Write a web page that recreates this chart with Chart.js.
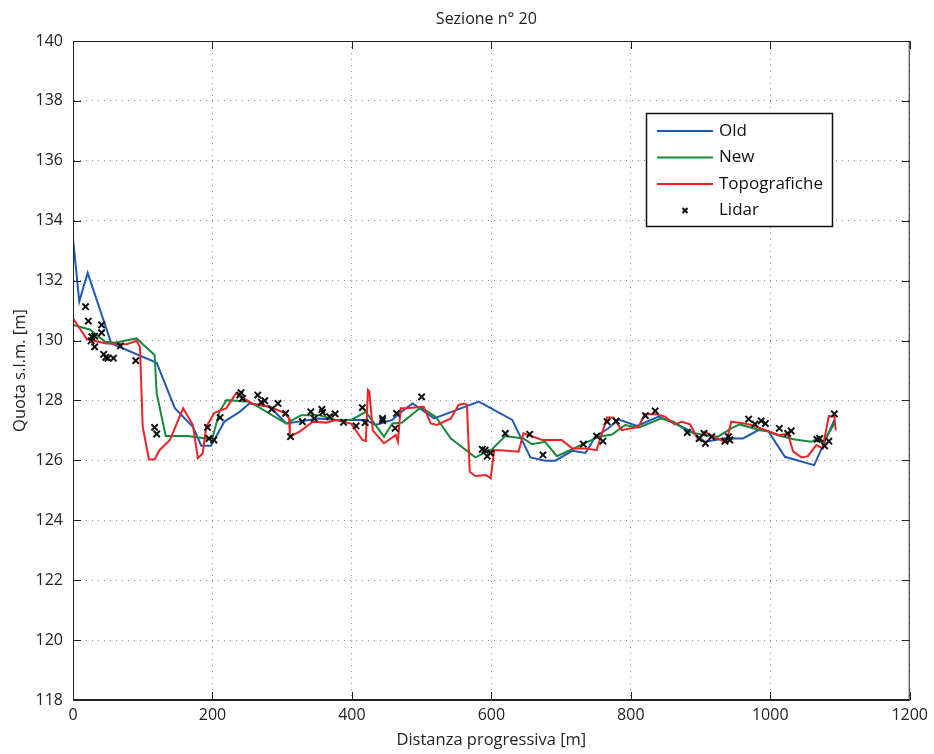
<!DOCTYPE html>
<html>
<head>
<meta charset="utf-8">
<script src="https://cdn.jsdelivr.net/npm/chart.js@4.4.1/dist/chart.umd.min.js"></script>
<style>
  html, body { margin: 0; padding: 0; background: #fff; }
  #wrap { width: 934px; height: 754px; }
</style>
</head>
<body>
<div id="wrap"><canvas id="graficoSezione" width="934" height="754"></canvas></div>
<script>
// Sezione n° 20 - profili quota vs distanza
const titolo = 'Sezione n° 20';
const etichette = ['Old', 'New', 'Topografiche', 'Lidar'];

// [distanza, quota]
const oldLine = [[0,133.4],[9,131.3],[21,132.26],[55,129.9],[120,129.26],[146,127.74],[172,127.12],[184,126.49],[198,126.49],
  [217,127.29],[239,127.62],[253,127.9],[282,127.79],[306,127.23],[353,127.4],[377,127.35],[401,127.35],[420,127.35],
  [434,127.18],[458,127.35],[468,127.57],[487,127.9],[518,127.4],[582,127.96],[630,127.35],[656,126.1],[677,125.99],
  [692,125.99],[716,126.32],[735,126.25],[749,126.79],[768,127.07],[782,127.37],[809,127.15],[840,127.46],[868,127.18],
  [887,126.96],[906,126.62],[921,126.68],[935,126.74],[961,126.73],[983,127.01],[997,126.98],[1021,126.12],[1063,125.84],
  [1078,126.62],[1092,127.35]];

const newLine = [[0,130.52],[24,130.37],[46,129.96],[60,129.93],[91,130.07],[117,129.52],[120,128.24],[133,126.81],[165,126.81],
  [191,126.73],[200,126.75],[210,127.62],[220,128.01],[253,127.96],[306,127.23],[327,127.51],[353,127.51],[377,127.35],
  [399,127.35],[420,127.62],[446,126.79],[458,127.23],[472,127.26],[499,127.77],[520,127.46],[542,126.73],[577,126.1],
  [601,126.37],[620,126.81],[646,126.73],[658,126.54],[677,126.62],[694,126.14],[716,126.37],[754,126.79],[773,126.86],
  [792,127.18],[811,127.09],[844,127.4],[861,127.29],[882,126.96],[906,126.84],[925,126.79],[944,127.07],[956,127.2],
  [975,127.07],[997,126.96],[1011,126.84],[1035,126.7],[1059,126.62],[1068,126.73],[1075,126.57],[1092,127.23]];

const topoLine = [[0,130.74],[8,130.46],[20,130.04],[48,129.9],[77,129.88],[91,129.99],[96,129.79],[100,127.12],[109,126.03],
  [117,126.03],[124,126.34],[139,126.68],[158,127.74],[172,127.18],[179,126.07],[186,126.23],[191,127.12],[203,127.59],
  [220,127.74],[229,128.07],[234,128.24],[256,127.9],[282,127.79],[303,127.59],[310,127.4],[311,126.79],[325,126.96],
  [344,127.29],[363,127.26],[377,127.35],[399,127.23],[415,126.68],[420,126.65],[423,128.35],[425,128.3],[430,127.0],
  [446,126.57],[463,126.84],[466,126.62],[470,127.74],[477,127.74],[503,127.79],[513,127.23],[522,127.18],[542,127.4],
  [553,127.85],[561,127.9],[565,127.85],[569,125.62],[577,125.48],[592,125.51],[599,125.4],[604,126.34],[613,126.34],
  [639,126.29],[646,126.9],[673,126.68],[701,126.68],[716,126.4],[735,126.4],[751,126.34],[766,127.43],[775,127.43],
  [787,127.01],[811,127.12],[820,127.54],[837,127.54],[849,127.46],[863,127.2],[873,127.29],[885,127.2],[897,126.68],
  [906,126.96],[918,126.79],[937,126.59],[944,127.29],[963,127.23],[973,127.18],[999,126.96],[1013,126.84],[1025,126.9],
  [1033,126.29],[1045,126.1],[1054,126.14],[1066,126.51],[1075,126.4],[1084,127.48],[1092,127.46],[1094,127.0]];

const lidarPts = [[18,131.13],[22,130.65],[41,130.52],[27,130.13],[31,130.15],[41,130.26],[26,129.99],[31,129.79],[44,129.54],
  [47,129.44],[50,129.41],[58,129.41],[68,129.82],[90,129.33],[117,127.1],[120,126.88],[193,127.1],[195,126.73],[202,126.68],
  [211,127.43],[239,128.18],[241,128.26],[243,128.07],[265,128.18],[270,127.94],[275,127.99],[285,127.71],[294,127.9],
  [305,127.57],[312,126.79],[329,127.29],[341,127.62],[346,127.4],[357,127.7],[358,127.6],[368,127.46],[376,127.55],
  [388,127.27],[406,127.15],[415,127.76],[419,127.26],[444,127.4],[444,127.33],[462,127.07],[464,127.57],[500,128.12],
  [587,126.37],[591,126.34],[594,126.14],[599,126.25],[620,126.9],[655,126.87],[674,126.18],[732,126.54],[751,126.81],
  [760,126.64],[766,127.29],[779,127.31],[821,127.49],[835,127.65],[881,126.93],[898,126.73],[905,126.9],[907,126.57],
  [916,126.79],[935,126.64],[940,126.79],[942,126.68],[969,127.38],[978,127.21],[987,127.32],[993,127.23],[1013,127.07],
  [1025,126.9],[1030,126.98],[1067,126.7],[1071,126.73],[1078,126.48],[1084,126.64],[1092,127.55]];

const xMin = 0, xMax = 1200, xStep = 200;
const yMin = 118, yMax = 140, yStep = 2;

const colori = ['#2157b5', '#168a3a', '#ec2227', '#111111'];
const FONT = '"Open Sans", "DejaVu Sans", sans-serif';

function toXY(arr) {
  return arr.map(p => ({ x: p[0], y: p[1] }));
}

// titolo, cornice, tacche interne e legenda in stile MATLAB
const stileMatlab = {
  id: 'stileMatlab',
  afterDraw(chart) {
    const { ctx, chartArea: a, scales } = chart;
    ctx.save();
    ctx.strokeStyle = '#222';
    ctx.lineWidth = 1;
    ctx.strokeRect(a.left + 0.5, a.top + 0.5, a.right - a.left - 1, a.bottom - a.top - 1);

    const tl = 8;
    ctx.beginPath();
    for (let v = xMin; v <= xMax; v += xStep) {
      const px = Math.round(scales.x.getPixelForValue(v)) + 0.5;
      ctx.moveTo(px, a.bottom); ctx.lineTo(px, a.bottom - tl);
      ctx.moveTo(px, a.top); ctx.lineTo(px, a.top + tl);
    }
    for (let v = yMin; v <= yMax; v += yStep) {
      const py = Math.round(scales.y.getPixelForValue(v)) + 0.5;
      ctx.moveTo(a.left, py); ctx.lineTo(a.left + tl, py);
      ctx.moveTo(a.right, py); ctx.lineTo(a.right - tl, py);
    }
    ctx.stroke();

    // titolo
    ctx.fillStyle = '#222';
    ctx.font = '16px ' + FONT;
    ctx.textAlign = 'center';
    ctx.textBaseline = 'middle';
    ctx.fillText(titolo, (a.left + a.right) / 2 - 5, 19);

    // legenda
    const lx = 646, ly = 113, lw = 186, lh = 113;
    ctx.fillStyle = '#fff';
    ctx.fillRect(lx, ly, lw, lh);
    ctx.strokeStyle = '#111';
    ctx.lineWidth = 1.5;
    ctx.strokeRect(lx + 0.5, ly + 0.5, lw, lh);
    ctx.font = '17px ' + FONT;
    ctx.textAlign = 'left';
    etichette.forEach((t, i) => {
      const yy = ly + 18 + i * 26.5;
      if (i < 3) {
        ctx.strokeStyle = colori[i];
        ctx.lineWidth = 2;
        ctx.beginPath(); ctx.moveTo(lx + 11, yy); ctx.lineTo(lx + 67, yy); ctx.stroke();
      } else {
        ctx.strokeStyle = colori[3];
        ctx.lineWidth = 2;
        const cx = lx + 39, s = 2.5;
        ctx.beginPath();
        ctx.moveTo(cx - s, yy - s); ctx.lineTo(cx + s, yy + s);
        ctx.moveTo(cx - s, yy + s); ctx.lineTo(cx + s, yy - s);
        ctx.stroke();
      }
      ctx.fillStyle = '#111';
      ctx.fillText(t, lx + 73, yy);
    });
    ctx.restore();
  }
};

const lineaBase = { showLine: true, pointRadius: 0, borderWidth: 2, tension: 0, fill: false };

new Chart(document.getElementById('graficoSezione').getContext('2d'), {
  type: 'scatter',
  data: {
    datasets: [
      Object.assign({ label: etichette[0], data: toXY(oldLine), borderColor: colori[0], order: 4 }, lineaBase),
      Object.assign({ label: etichette[1], data: toXY(newLine), borderColor: colori[1], order: 3 }, lineaBase),
      Object.assign({ label: etichette[2], data: toXY(topoLine), borderColor: colori[2], order: 2 }, lineaBase),
      {
        label: etichette[3], data: toXY(lidarPts), showLine: false, order: 1,
        pointStyle: 'crossRot', pointRadius: 4.5, borderWidth: 2,
        borderColor: colori[3], backgroundColor: colori[3]
      }
    ]
  },
  options: {
    responsive: false,
    animation: false,
    layout: { padding: { top: 41, right: 22, left: 0, bottom: 0 } },
    plugins: { legend: { display: false }, tooltip: { enabled: false } },
    scales: {
      x: {
        type: 'linear', min: xMin, max: xMax,
        afterFit: s => { s.height = 54; },
        ticks: { stepSize: xStep, padding: 6, maxRotation: 0, color: '#222', font: { family: FONT, size: 16 },
                 callback: v => String(v) },
        grid: { color: '#8a8a8a', drawTicks: false, lineWidth: 1 },
        border: { display: true, color: '#222', dash: [1, 5] },
        title: { display: true, text: 'Distanza progressiva [m]', color: '#222', font: { family: FONT, size: 16.5 }, padding: { top: 0, bottom: 4 } }
      },
      y: {
        type: 'linear', min: yMin, max: yMax,
        afterFit: s => { s.width = 73; },
        ticks: { stepSize: yStep, padding: 10, color: '#222', font: { family: FONT, size: 16 },
                 callback: v => String(v) },
        grid: { color: '#8a8a8a', drawTicks: false, lineWidth: 1 },
        border: { display: true, color: '#222', dash: [1, 5] },
        title: { display: true, text: 'Quota s.l.m. [m]', color: '#222', font: { family: FONT, size: 16.5 }, padding: { top: 10, bottom: 0 } }
      }
    }
  },
  plugins: [stileMatlab]
});
</script>
</body>
</html>
